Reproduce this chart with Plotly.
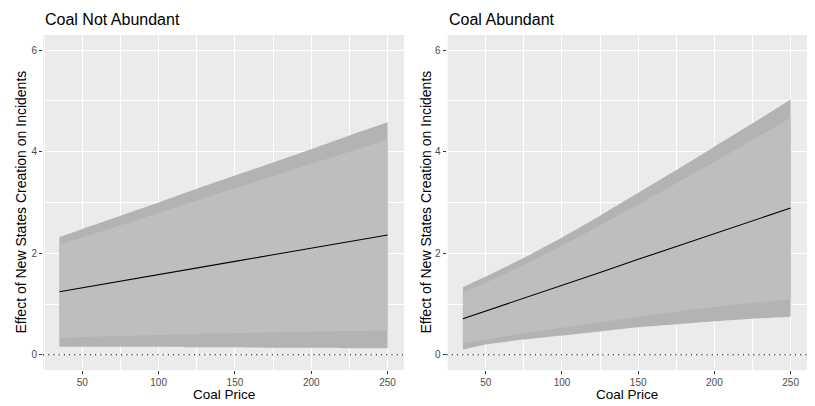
import plotly.graph_objects as go

# ---- data ----
coal_price = [35, 50, 75, 100, 125, 150, 175, 200, 225, 250]

# Coal Not Abundant
na_effect      = [1.24, 1.32, 1.45, 1.58, 1.71, 1.84, 1.97, 2.10, 2.23, 2.36]
na_outer_upper = [2.32, 2.48, 2.74, 3.00, 3.27, 3.53, 3.79, 4.05, 4.32, 4.58]
na_outer_lower = [0.16, 0.16, 0.16, 0.16, 0.15, 0.15, 0.14, 0.14, 0.13, 0.13]
na_inner_upper = [2.17, 2.31, 2.55, 2.80, 3.04, 3.28, 3.52, 3.76, 4.00, 4.24]
na_inner_lower = [0.33, 0.35, 0.37, 0.39, 0.41, 0.43, 0.44, 0.46, 0.47, 0.48]

# Coal Abundant
ab_effect      = [0.71, 0.86, 1.12, 1.37, 1.62, 1.88, 2.13, 2.38, 2.64, 2.89]
ab_outer_upper = [1.33, 1.54, 1.91, 2.31, 2.74, 3.19, 3.64, 4.10, 4.56, 5.03]
ab_outer_lower = [0.10, 0.20, 0.30, 0.38, 0.46, 0.54, 0.60, 0.66, 0.71, 0.75]
ab_inner_upper = [1.23, 1.42, 1.77, 2.15, 2.55, 2.96, 3.38, 3.80, 4.23, 4.67]
ab_inner_lower = [0.22, 0.30, 0.42, 0.53, 0.64, 0.75, 0.85, 0.94, 1.02, 1.09]

panel_titles = ["Coal Not Abundant", "Coal Abundant"]
x_title = "Coal Price"
y_title = "Effect of New States Creation on Incidents"
ref_line = 0
x_ticks = [50, 100, 150, 200, 250]
y_ticks = [0, 2, 4, 6]

# ---- style ----
W, H = 815, 406
OFF = 8  # page body margin offset compensation
OUTER = "#B3B3B3"
INNER = "#BEBEBE"
BG = "#EBEBEB"
FONT = "Liberation Sans, Arial, sans-serif"


def px_x(p):
    return (p - OFF) / W


def px_y(p):
    return (H - (p - OFF)) / H


fig = go.Figure()

panels = [
    ("x", "y", na_effect, na_outer_upper, na_outer_lower, na_inner_upper, na_inner_lower),
    ("x2", "y2", ab_effect, ab_outer_upper, ab_outer_lower, ab_inner_upper, ab_inner_lower),
]

for xa, ya, eff, ou, ol, iu, il in panels:
    band = dict(mode="lines", line=dict(width=0, shape="spline", smoothing=0.6),
                xaxis=xa, yaxis=ya, showlegend=False, hoverinfo="skip")
    fig.add_trace(go.Scatter(x=coal_price, y=ou, **band))
    fig.add_trace(go.Scatter(x=coal_price, y=ol, fill="tonexty", fillcolor=OUTER, **band))
    fig.add_trace(go.Scatter(x=coal_price, y=iu, **band))
    fig.add_trace(go.Scatter(x=coal_price, y=il, fill="tonexty", fillcolor=INNER, **band))
    fig.add_trace(go.Scatter(x=coal_price, y=eff, mode="lines",
                             line=dict(color="black", width=1.1),
                             xaxis=xa, yaxis=ya, showlegend=False))
    fig.add_shape(type="line", xref=f"{xa} domain", yref=ya, x0=0, x1=1,
                  y0=ref_line, y1=ref_line,
                  line=dict(color="black", width=1.2, dash="1.2px,4px"))

xpad = (max(coal_price) - min(coal_price)) * 0.05
xrange = [min(coal_price) - xpad, max(coal_price) + xpad]
yrange = [-0.3, 6.3]

x_domains = [[px_x(43), px_x(404)], [px_x(446.5), px_x(807)]]
y_domain = [px_y(370), px_y(35)]

axis_common = dict(
    showline=False, zeroline=False, showgrid=True, gridcolor="white", gridwidth=1.1,
    ticks="outside", ticklen=3, tickwidth=1, tickcolor="#333333",
    tickfont=dict(family=FONT, size=10, color="#4D4D4D"),
)
minor_common = dict(showgrid=True, gridcolor="white", gridwidth=0.55, ticks="")

for i, (xa, ya) in enumerate([("xaxis", "yaxis"), ("xaxis2", "yaxis2")]):
    anchor_y = "y" if i == 0 else "y2"
    anchor_x = "x" if i == 0 else "x2"
    fig.update_layout(**{
        xa: dict(axis_common, domain=x_domains[i], range=xrange, anchor=anchor_y,
                 tickvals=x_ticks, minor=dict(minor_common, dtick=25, tick0=0)),
        ya: dict(axis_common, domain=y_domain, range=yrange, anchor=anchor_x,
                 tickvals=y_ticks, minor=dict(minor_common, dtick=1, tick0=0)),
    })

annotations = []
for i in range(2):
    d = x_domains[i]
    annotations.append(dict(text=panel_titles[i], xref="paper", yref="paper",
                            x=d[0], y=px_y(19.5), xanchor="left", yanchor="middle",
                            showarrow=False, font=dict(family=FONT, size=16, color="black")))
    annotations.append(dict(text=x_title, xref="paper", yref="paper",
                            x=(d[0] + d[1]) / 2, y=px_y(394), xanchor="center", yanchor="middle",
                            showarrow=False, font=dict(family=FONT, size=13.5, color="black")))
    annotations.append(dict(text=y_title, xref="paper", yref="paper",
                            x=px_x(20 if i == 0 else 425), y=(y_domain[0] + y_domain[1]) / 2,
                            xanchor="center", yanchor="middle", textangle=-90,
                            showarrow=False, font=dict(family=FONT, size=14, color="black")))

fig.update_layout(
    width=W, height=H, margin=dict(l=0, r=0, t=0, b=0),
    paper_bgcolor="white", plot_bgcolor=BG,
    annotations=annotations, showlegend=False,
)

fig.write_html("out.html")
